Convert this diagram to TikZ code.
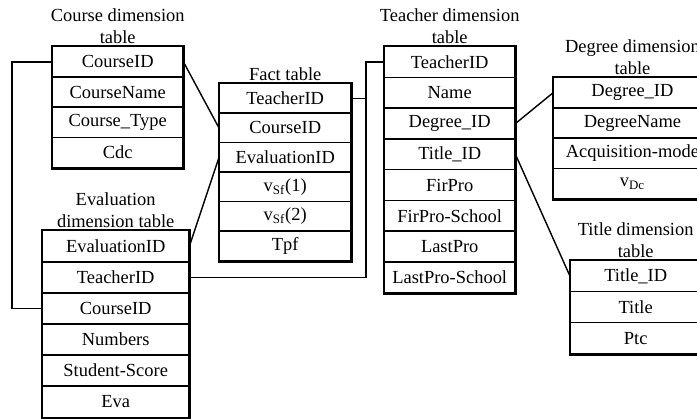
\documentclass[tikz,border=0pt]{standalone}
\usepackage{fontspec}
\setmainfont{Liberation Serif}
\usetikzlibrary{calc,positioning}

\begin{document}
\begin{tikzpicture}[x=1mm,y=-1mm,
    every node/.style={font=\fontsize{10.5}{12.5}\selectfont},
    field/.style={draw,line width=0.8pt,inner sep=0pt,anchor=north west},
    frame/.style={line width=1.7pt},
    caption/.style={align=center,inner sep=1pt},
    link/.style={line width=0.8pt}]
    \useasboundingbox (0,0) rectangle (139.4,83.8);
    \clip (0,0) rectangle (139.4,83.8);
    %% course dimension table
    \foreach \txt [count=\i] in {CourseID,CourseName,Course\_Type,Cdc}
      \node[field,minimum width=26mm,minimum height=6.05mm]
        (course-\i) at (10.4,{9.2+(\i-1)*6.05}) {\txt};
    \draw[frame] (course-1.north west) rectangle (course-4.south east);
    \node[caption,above=0pt of course-1] {Course dimension\\table};
    %% evaluation dimension table
    \foreach \txt [count=\i] in {EvaluationID,TeacherID,CourseID,Numbers,Student-Score,Eva}
      \node[field,minimum width=29.2mm,minimum height=6.22mm]
        (eval-\i) at (8.4,{46+(\i-1)*6.22}) {\txt};
    \draw[frame] (eval-1.north west) rectangle (eval-6.south east);
    \node[caption,above=0pt of eval-1] {Evaluation\\dimension table};
    %% fact table
    \foreach \txt [count=\i] in {TeacherID,CourseID,EvaluationID,
        v\textsubscript{Sf}(1),v\textsubscript{Sf}(2),Tpf}
      \node[field,minimum width=26.2mm,minimum height=5.9mm]
        (fact-\i) at (43.8,{16.6+(\i-1)*5.9}) {\txt};
    \draw[frame] (fact-1.north west) rectangle (fact-6.south east);
    \node[caption,above=0pt of fact-1] {Fact table};
    %% teacher dimension table
    \foreach \txt [count=\i] in {TeacherID,Name,Degree\_ID,Title\_ID,FirPro,
        FirPro-School,LastPro,LastPro-School}
      \node[field,minimum width=26mm,minimum height=6.15mm]
        (teacher-\i) at (76.8,{9.2+(\i-1)*6.15}) {\txt};
    \draw[frame] (teacher-1.north west) rectangle (teacher-8.south east);
    \node[caption,above=0pt of teacher-1] {Teacher dimension\\table};
    %% degree dimension table
    \foreach \txt [count=\i] in {Degree\_ID,DegreeName,Acquisition-mode,
        v\textsubscript{Dc}}
      \node[field,minimum width=31.5mm,minimum height=6.05mm]
        (degree-\i) at (110.6,{15.4+(\i-1)*6.05}) {\txt};
    \draw[frame] (degree-1.north west) rectangle (degree-4.south east);
    \node[caption,above=0pt of degree-1] {Degree dimension\\table};
    %% title dimension table
    \foreach \txt [count=\i] in {Title\_ID,Title,Ptc}
      \node[field,minimum width=26mm,minimum height=6.2mm]
        (title-\i) at (114,{52+(\i-1)*6.2}) {\txt};
    \draw[frame] (title-1.north west) rectangle (title-3.south east);
    \node[caption,above=0pt of title-1] {Title dimension\\table};
    %% links
    \coordinate (bus) at ($(fact-1.east)+(2.9,0)$);
    \draw[link] (course-1.east) -- (fact-2.west);
    \draw[link] (eval-1.east) -- (fact-3.west);
    \draw[link] (course-1.west) -- ++(-8,0) |- (eval-3.west);
    \draw[link] (eval-2.east) -| (bus) |- (teacher-1.west);
    \draw[link] (fact-1.east) -- (bus);
    \draw[link] (teacher-3.east) -- (degree-1.west);
    \draw[link] (teacher-4.east) -- (title-1.west);
  \end{tikzpicture}
\end{document}
